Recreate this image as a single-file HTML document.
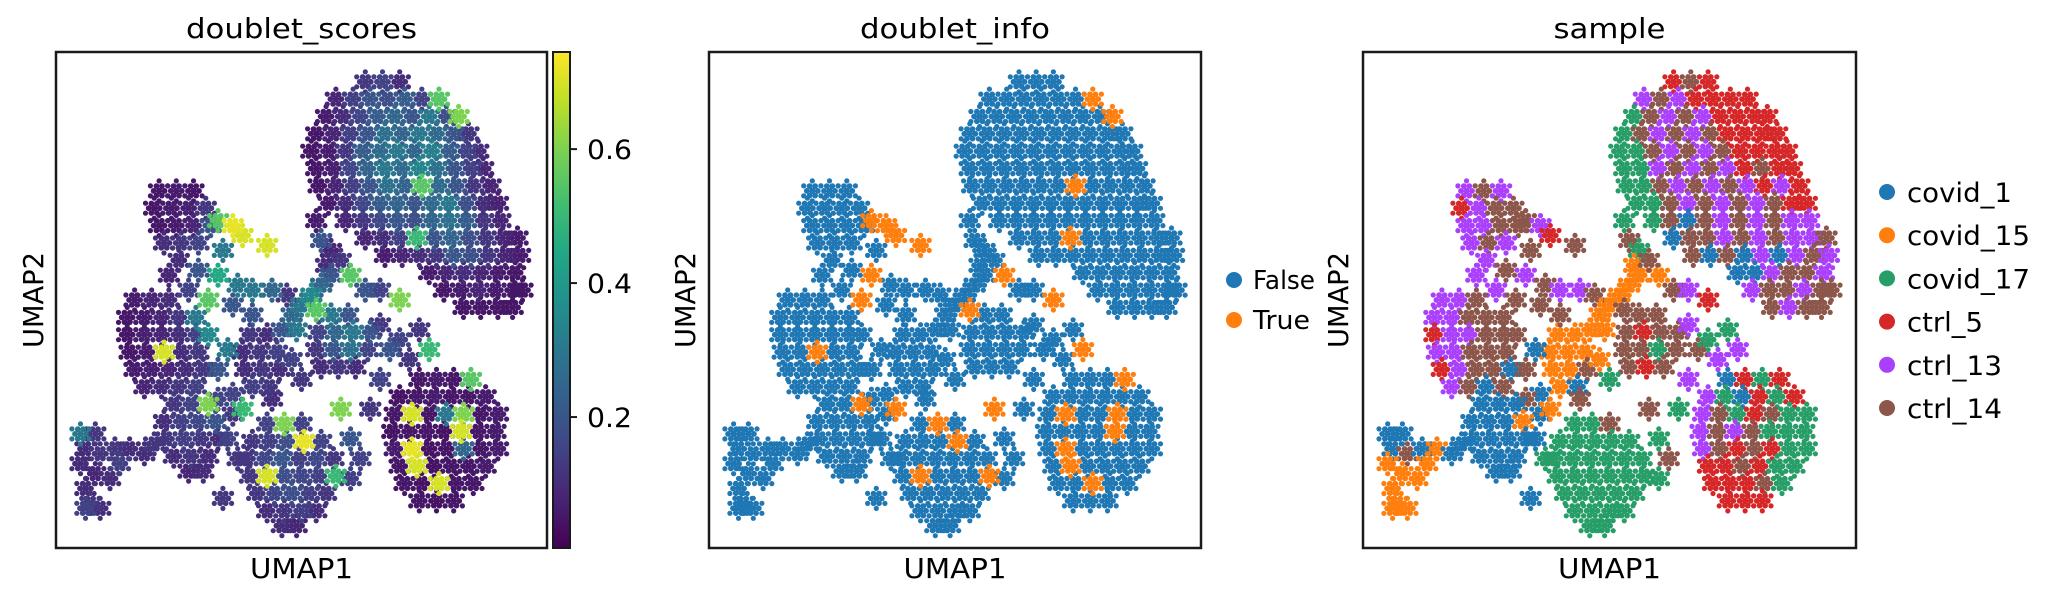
<!DOCTYPE html>
<html><head><meta charset="utf-8"><style>
html,body{margin:0;padding:0;background:#fff;}
svg{display:block;}
text{font-family:"DejaVu Sans","Liberation Sans",sans-serif;fill:#000;}
</style></head>
<body>
<svg id="fig" width="2060" height="602" viewBox="0 0 2060 602" xmlns="http://www.w3.org/2000/svg">
<defs>
<linearGradient id="viridis" x1="0" y1="1" x2="0" y2="0">
<stop offset="0" stop-color="#440154"/><stop offset="0.1" stop-color="#482475"/><stop offset="0.2" stop-color="#414487"/><stop offset="0.3" stop-color="#355f8d"/><stop offset="0.4" stop-color="#2a788e"/><stop offset="0.5" stop-color="#21918c"/><stop offset="0.6" stop-color="#22a884"/><stop offset="0.7" stop-color="#44bf70"/><stop offset="0.8" stop-color="#7ad151"/><stop offset="0.9" stop-color="#bddf26"/><stop offset="1" stop-color="#fde725"/>
</linearGradient>
</defs>
</svg>
<script>
// ---- data: [umap1, umap2, doublet_score, sampleIndex] ----
const clusterA = [[63,94,.12,3],[66.5,94,.15,5],[70,94,.1,3],
[57,90.5,.08,4],[60.5,90.5,.14,5],[64,90.5,.2,4],[67.5,90.5,.18,3],[71,90.5,.22,3],[74.5,90.5,.15,3],[78,90.5,.55,3],
[55,87,.06,2],[58.5,87,.1,5],[62,87,.16,4],[65.5,87,.22,5],[69,87,.25,4],[72.5,87,.2,3],[76,87,.3,3],[79.5,87,.18,3],[82,87,.6,3],
[53,83.5,.05,2],[56.5,83.5,.08,5],[60,83.5,.14,4],[63.5,83.5,.2,5],[67,83.5,.28,4],[70.5,83.5,.24,5],[74,83.5,.3,3],[77.5,83.5,.26,3],[81,83.5,.2,3],[84,83.5,.12,3],
[52,80,.05,2],[55.5,80,.06,2],[59,80,.12,5],[62.5,80,.22,4],[66,80,.26,5],[69.5,80,.3,4],[73,80,.24,5],[76.5,80,.32,3],[80,80,.22,3],[83.5,80,.15,3],[86,80,.1,3],
[53,76.5,.05,2],[56.5,76.5,.07,2],[60,76.5,.16,4],[63.5,76.5,.24,5],[67,76.5,.3,4],[70.5,76.5,.26,5],[74,76.5,.34,4],[77.5,76.5,.28,3],[81,76.5,.2,5],[84.5,76.5,.14,3],[87,76.5,.08,3],
[53.5,73,.05,2],[57,73,.08,2],[60.5,73,.14,5],[64,73,.2,4],[67.5,73,.28,5],[71,73,.24,4],[74.5,73,.55,5],[78,73,.26,4],[81.5,73,.2,3],[85,73,.12,4],[88.5,73,.08,3],
[55.5,69.5,.06,2],[59,69.5,.1,2],[62.5,69.5,.16,5],[66,69.5,.22,4],[69.5,69.5,.24,5],[73,69.5,.2,4],[76.5,69.5,.26,5],[80,69.5,.3,4],[83.5,69.5,.18,5],[87,69.5,.1,3],[90,69.5,.07,3],
[59,66,.08,2],[62.5,66,.12,5],[66,66,.16,0],[69.5,66,.2,5],[73,66,.18,4],[76.5,66,.24,5],[80,66,.28,4],[83.5,66,.22,5],[87,66,.12,4],[90.5,66,.08,4],
[63,62.5,.08,0],[66.5,62.5,.1,5],[70,62.5,.14,5],[73.5,62.5,.5,4],[77,62.5,.2,5],[80.5,62.5,.24,4],[84,62.5,.18,5],[87.5,62.5,.12,4],[91,62.5,.08,4],[94,62.5,.06,5],
[67,59,.06,5],[70.5,59,.08,0],[74,59,.1,5],[77.5,59,.12,0],[81,59,.2,4],[84.5,59,.18,0],[88,59,.12,4],[91.5,59,.08,5],[94.5,59,.06,4],
[76,55.5,.06,0],[79.5,55.5,.08,0],[83,55.5,.1,4],[86.5,55.5,.08,5],[90,55.5,.06,5],[93.5,55.5,.05,4],
[79,52,.05,4],[82.5,52,.06,5],[86,52,.08,5],[89.5,52,.06,4],[93,52,.05,5],[95,52,.05,5],
[83,48.5,.05,5],[86.5,48.5,.05,4],[90,48.5,.05,5],[93,48.5,.05,5],
[53,66,.06,2],[54,62,.2,5],[56,60,.08,2],[55,57,.1,1]];
const clusterB = [[21,72,.05,4],[24.5,72,.06,5],[28,72,.05,4],[20,68.5,.05,3],[23.5,68.5,.06,4],[27,68.5,.07,5],[30.5,68.5,.12,5],[21,65,.05,4],[24.5,65,.06,4],[28,65,.08,5],[31.5,65,.2,5],[22,61.5,.1,4],[25.5,61.5,.12,5],[29,61.5,.15,4]];
const scatterMid = [[25,58,.1,4],[29,56,.2,5],[33,55,.45,4],[37,53,.3,5],[27,52,.15,4],[31,50,.55,5],[36,49,.2,5],[40,52,.3,4],[44,52,.25,4],[47,51,.12,5],[23,55,.08,4],[33,66,.55,5],[36,65,.72,4],[38,63,.7,3],[43,61,.7,5],[34,60,.3,5]];
const clusterC = [[16,50,.06,4],[19.5,50,.08,4],[23,50,.1,5],[14.5,46.5,.05,4],[18,46.5,.06,4],[21.5,46.5,.08,5],[25,46.5,.12,5],[28.5,46.5,.3,5],[14.5,43,.05,3],[18,43,.07,4],[21.5,43,.08,4],[25,43,.1,5],[28.5,43,.14,5],[31,43,.35,5],[15,39.5,.05,4],[18.5,39.5,.06,4],[22,39.5,.7,5],[25.5,39.5,.1,5],[29,39.5,.12,5],[16,36,.06,3],[19.5,36,.07,4],[23,36,.08,5],[26.5,36,.1,5],[30,36,.12,0],[18,32.5,.08,4],[21.5,32.5,.1,5],[25,32.5,.12,0],[28.5,32.5,.14,5]];
const clusterD = [[39.5,43,.12,1],[43,43,.1,1],[38,39.5,.1,1],[41.5,39.5,.12,1],[45,39.5,.14,1],[38.5,36,.1,1],[42,36,.12,1],[45.5,36,.1,5],[40,32.5,.14,1],[43.5,32.5,.12,0],[46,44,.2,1],[48,47,.25,1],[50,49,.3,1],[52,51,.35,1],[54,53,.25,1],[56,55,.2,1],[49,44,.3,1],[53,48,.55,5]];
const clusterE = [[56,47,.3,5],[59.5,47,.2,5],[53.5,43.5,.15,5],[57,43.5,.25,3],[60.5,43.5,.3,5],[64,43.5,.2,5],[53,40,.12,5],[56.5,40,.2,5],[60,40,.28,2],[63.5,40,.15,5],[54,36.5,.1,5],[57.5,36.5,.12,3],[61,36.5,.1,5]];
const scatterLow = [[48,38,.15,1],[50,34,.12,2],[35,40,.3,0],[33,36,.2,5],[44,30,.1,5],[36,31,.15,0],[66,45,.12,4],[68,40,.2,5],[70,42,.15,2],[72,38,.12,4],[63,52,.2,5],[60,55,.55,1],[58,58,.12,5],[66,52,.15,4],[70,50,.6,3],[74,44,.12,2],[76,40,.5,4],[33,30,.15,5],[36,27,.12,0],[38,28,.5,1],[35,22,.15,0],[37,18,.12,2],[60,22,.2,2],[62,18,.15,5],[60,14,.14,2],[64,28,.12,2],[58,28,.6,5],[34,10,.12,0],[66,34,.15,4],[40,47,.2,5]];
const clusterF = [[24,29,.12,0],[27.5,29,.15,0],[31,29,.6,0],[22,25.5,.1,0],[25.5,25.5,.14,0],[29,25.5,.16,0],[32.5,25.5,.2,1],[22.5,22,.12,0],[26,22,.14,0],[29.5,22,.12,0],[33,22,.1,0],[24,18.5,.1,0],[27.5,18.5,.12,0],[31,18.5,.1,0],[27,15.5,.08,0],[30,15.5,.1,0]];
const clusterG = [[43,25,.15,2],[46.5,25,.6,2],[50,25,.15,5],[40,21.5,.12,2],[43.5,21.5,.14,2],[47,21.5,.18,2],[50.5,21.5,.72,2],[54,21.5,.15,2],[39,18,.12,2],[42.5,18,.16,2],[46,18,.2,2],[49.5,18,.14,2],[53,18,.16,2],[56.5,18,.12,2],[39.5,14.5,.12,2],[43,14.5,.7,2],[46.5,14.5,.18,2],[50,14.5,.16,2],[53.5,14.5,.14,2],[57,14.5,.5,2],[41,11,.12,2],[44.5,11,.16,2],[48,11,.18,2],[51.5,11,.14,2],[55,11,.12,2],[43,7.5,.1,2],[46.5,7.5,.12,2],[50,7.5,.14,2],[53,7.5,.1,2],[46,4.5,.1,2],[49,4.5,.08,2]];
const clusterH = [[74,34,.05,0],[77.5,34,.06,3],[81,34,.05,2],[84.5,34,.55,3],[70,30.5,.04,4],[73.5,30.5,.05,2],[77,30.5,.06,0],[80.5,30.5,.05,3],[84,30.5,.05,2],[87.5,30.5,.06,3],[69,27,.05,4],[72.5,27,.7,5],[76,27,.05,2],[79.5,27,.3,3],[83,27,.6,5],[86.5,27,.05,2],[90,27,.06,2],[68.5,23.5,.04,4],[72,23.5,.05,5],[75.5,23.5,.05,4],[79,23.5,.04,5],[82.5,23.5,.7,2],[86,23.5,.05,2],[89.5,23.5,.06,2],[69,20,.06,4],[72.5,20,.72,5],[76,20,.04,3],[79.5,20,.05,5],[83,20,.25,3],[86.5,20,.05,2],[90,20,.06,2],[70,16.5,.05,3],[73.5,16.5,.7,3],[77,16.5,.04,5],[80.5,16.5,.05,3],[84,16.5,.05,2],[87.5,16.5,.06,2],[71,13,.05,3],[74.5,13,.04,3],[78,13,.7,3],[81.5,13,.05,5],[85,13,.05,2],[74,9.5,.05,3],[77.5,9.5,.04,3],[81,9.5,.05,3]];
const clusterI = [[5,23,.3,0],[8,23,.12,0],[6,20,.1,0],[9,19,.12,5],[5,17,.1,1],[8,15,.08,1],[6,12,.1,1],[7,9,.12,1],[9,8,.1,1],[6,8,.15,1],[12,20,.12,0],[15,20,.1,1],[18,19,.1,0],[20,21,.12,0],[13,17,.14,1],[11,14,.1,1]];
const sampleNames = ["covid_1","covid_15","covid_17","ctrl_5","ctrl_13","ctrl_14"];
const sampleColors = ["#1f77b4","#ff7f0e","#279e68","#d62728","#aa40fc","#8c564b"];
const doubletLabels = ["False","True"];
const doubletColors = ["#1f77b4","#ff7f0e"];
const colorbarTicks = [0.2,0.4,0.6];
const colorbarTickLabels = ["0.2","0.4","0.6"];
const scoreMin = 0.0045, scoreMax = 0.745, doubletThreshold = 0.45;

const cells = [].concat(clusterA,clusterB,scatterMid,clusterC,clusterD,clusterE,scatterLow,clusterF,clusterG,clusterH,clusterI);
const NS = "http://www.w3.org/2000/svg";
const svg = document.getElementById('fig');
function mk(tag, attrs, parent){ const e=document.createElementNS(NS,tag); for(const k in attrs) e.setAttribute(k,attrs[k]); (parent||svg).appendChild(e); return e; }
const vStops=["#440154","#482475","#414487","#355f8d","#2a788e","#21918c","#22a884","#44bf70","#7ad151","#bddf26","#fde725"];
function hex(h){return [parseInt(h.slice(1,3),16),parseInt(h.slice(3,5),16),parseInt(h.slice(5,7),16)];}
function viridis(v){ let t=(v-scoreMin)/(scoreMax-scoreMin); t=Math.max(0,Math.min(1,t)); const p=t*10, i=Math.min(9,Math.floor(p)), f=p-i; const a=hex(vStops[i]), b=hex(vStops[i+1]); return 'rgb('+a.map((c,j)=>Math.round(c+(b[j]-c)*f)).join(',')+')'; }

// marker glyph: an isotropic rosette of small dots (styling, not data)
const rosette=[[0,0,3.2]];
for(let k=0;k<6;k++){ const a=k*Math.PI/3; rosette.push([5.5*Math.cos(a),5.5*Math.sin(a),2.9]); }
for(let k=0;k<6;k++){ const a=k*Math.PI/3+Math.PI/6; rosette.push([10*Math.cos(a),10*Math.sin(a),2.6]); }

const panels = [
 {name:'doublet-scores', title:'doublet_scores', tw:231, x0:56, x1:547, ylab:43},
 {name:'doublet-info', title:'doublet_info', tw:190, x0:709, x1:1201, ylab:695},
 {name:'sample', title:'sample', tw:112, x0:1363, x1:1856, ylab:1348}
];
const Y0=52, Y1=548;
function txt(parent, s, x, y, len, size, anchor, extra){ const t=mk('text',Object.assign({x:x,y:y,'font-size':size,'text-anchor':anchor||'middle',textLength:len,lengthAdjust:'spacingAndGlyphs'},extra||{}),parent); t.textContent=s; return t; }

panels.forEach((p,pi)=>{
  const g=mk('g',{});
  
  
  const sx=v=>p.x0+v/100*(p.x1-p.x0), sy=v=>Y0+(100-v)/100*(Y1-Y0);
  const pts=mk('g',{},g);
  
  
  let order=cells.slice();
  if(pi===1) order.sort((a,b)=>(a[2]>=doubletThreshold)-(b[2]>=doubletThreshold));
  if(pi===0) order.sort((a,b)=>a[2]-b[2]);
  order.forEach(c=>{
    const col = pi===0 ? viridis(c[2]) : pi===1 ? doubletColors[c[2]>=doubletThreshold?1:0] : sampleColors[c[3]];
    const cx=sx(c[0]), cy=sy(c[1]);
    const d=mk('g',{fill:col},pts);
    
    
    rosette.forEach(o=>mk('circle',{cx:(cx+o[0]).toFixed(1),cy:(cy+o[1]).toFixed(1),r:o[2]},d));
  });
  const fr=mk('rect',{x:p.x0,y:Y0,width:p.x1-p.x0,height:Y1-Y0,fill:'none',stroke:'#1a1a1a','stroke-width':2.5},g);
  
  
  const cx=(p.x0+p.x1)/2;
  const t=txt(g,p.title,cx,38,p.tw,28);
  
  
  const xl=txt(g,'UMAP1',cx,578,103,28);
  
  
  const yl=txt(g,'UMAP2',0,0,96,28,'middle',{transform:'translate('+p.ylab+',300) rotate(-90)'});
  
  
});

// colorbar
const cb=mk('g',{});


mk('rect',{x:553,y:Y0,width:17,height:Y1-Y0,fill:'url(#viridis)',stroke:'#1a1a1a','stroke-width':2},cb);
const cbY=v=>Y1-(v-scoreMin)/(scoreMax-scoreMin)*(Y1-Y0);
colorbarTicks.forEach((v,i)=>{
  const y=cbY(v);
  const tk=mk('line',{x1:570,x2:577,y1:y,y2:y,stroke:'#1a1a1a','stroke-width':2},cb);
  
  
  const tl=txt(cb,colorbarTickLabels[i],587,y+10,45,27,'start');
  
  
});

// legends
const leg2=mk('g',{});


const leg2W=[62,57];
doubletLabels.forEach((s,i)=>{
  const y=280+i*40;
  const e=mk('g',{},leg2);
  
  
  mk('circle',{cx:1234,cy:y,r:8,fill:doubletColors[i]},e);
  txt(e,s,1253,y+9,leg2W[i],26,'start');
});
const leg3=mk('g',{});


const leg3W=[105,123,123,76,95,95];
sampleNames.forEach((s,i)=>{
  const y=192+i*43.2;
  const e=mk('g',{},leg3);
  
  
  mk('circle',{cx:1887,cy:y,r:8,fill:sampleColors[i]},e);
  txt(e,s,1907,y+10,leg3W[i],27,'start');
});
</script>
</body></html>
